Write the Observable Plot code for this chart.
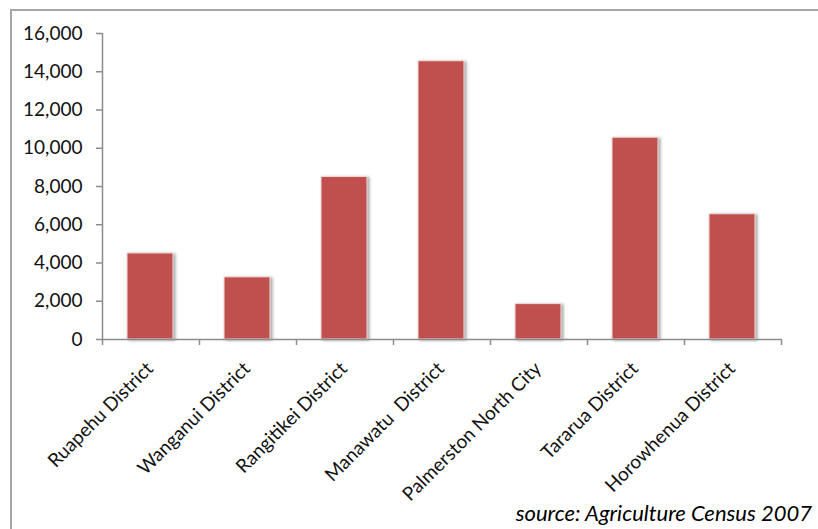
<!DOCTYPE html>
<html>
<head>
<meta charset="utf-8">
<script src="https://cdn.jsdelivr.net/npm/d3@7"></script>
<script src="https://cdn.jsdelivr.net/npm/@observablehq/plot@0.6"></script>
<style>
  html, body { margin: 0; padding: 0; background: #fff; }
  #wrap { position: relative; width: 818px; height: 529px; overflow: hidden; }
  #border { position: absolute; left: 10px; top: 9px; width: 820px; height: 540px; border: 2px solid #a6a6a6; box-sizing: border-box; }
  #chart { position: absolute; left: 0; top: 0; }
  #source { position: absolute; right: 6px; top: 499px; font-family: Lato, sans-serif; font-style: italic; font-size: 22px; color: #000; white-space: nowrap; }
  g[aria-label="bar"] rect { filter: drop-shadow(2px 1px 1.5px rgba(0,0,0,0.35)); }
</style>
</head>
<body>
<div id="wrap">
  <div id="border"></div>
  <div id="chart"></div>
  <div id="source">source: Agriculture Census 2007</div>
</div>
<script>
const categories = ["Ruapehu District", "Wanganui District", "Rangitikei District", "Manawatu  District", "Palmerston North City", "Tararua District", "Horowhenua District"];
const values = [4500, 3250, 8500, 14550, 1850, 10550, 6550];
const yTicks = [0, 2000, 4000, 6000, 8000, 10000, 12000, 14000, 16000];

const data = categories.map((c, i) => ({category: c, value: values[i]}));

const W = 818, H = 529;
const mL = 102, mR = 37, mT = 33, mB = 190;
const step = (W - mL - mR) / categories.length;
const axisColor = "#8c8c8c";

const chart = Plot.plot({
  width: W,
  height: H,
  marginLeft: mL,
  marginRight: mR,
  marginTop: mT,
  marginBottom: mB,
  style: { fontFamily: "Lato, sans-serif", fontSize: "19px", color: "#000", background: "transparent", overflow: "visible" },
  x: { domain: categories, padding: 0, label: null },
  y: { type: "linear", domain: [0, 16000], label: null },
  marks: [
    Plot.barY(data, { x: "category", y: "value", fill: "#c0504d", stroke: "#f3dede", strokeWidth: 1, insetLeft: 25, insetRight: 26 }),
    Plot.ruleX([categories[0]], { y1: 0, y2: 16000, dx: -step / 2, stroke: axisColor, strokeWidth: 1.5 }),
    Plot.ruleY([0], { stroke: axisColor, strokeWidth: 1.5 }),
    Plot.ruleX(categories, { x: d => d, y1: 0, y2: 0, insetBottom: -6, dx: -step / 2, stroke: axisColor, strokeWidth: 1.5 }),
    Plot.ruleX([categories[categories.length - 1]], { x: d => d, y1: 0, y2: 0, insetBottom: -6, dx: step / 2, stroke: axisColor, strokeWidth: 1.5 }),
    Plot.axisY({ ticks: yTicks, tickFormat: d3.format(","), tickSize: 6, tickPadding: 14, stroke: axisColor, strokeWidth: 1.5, fill: "#111", fontSize: 19, label: null }),
    Plot.axisX({ tickSize: 0, tickRotate: -45, tickPadding: 26, fill: "#111", fontSize: 19, label: null, dx: -1 })
  ]
});
document.getElementById("chart").appendChild(chart);
</script>
</body>
</html>
